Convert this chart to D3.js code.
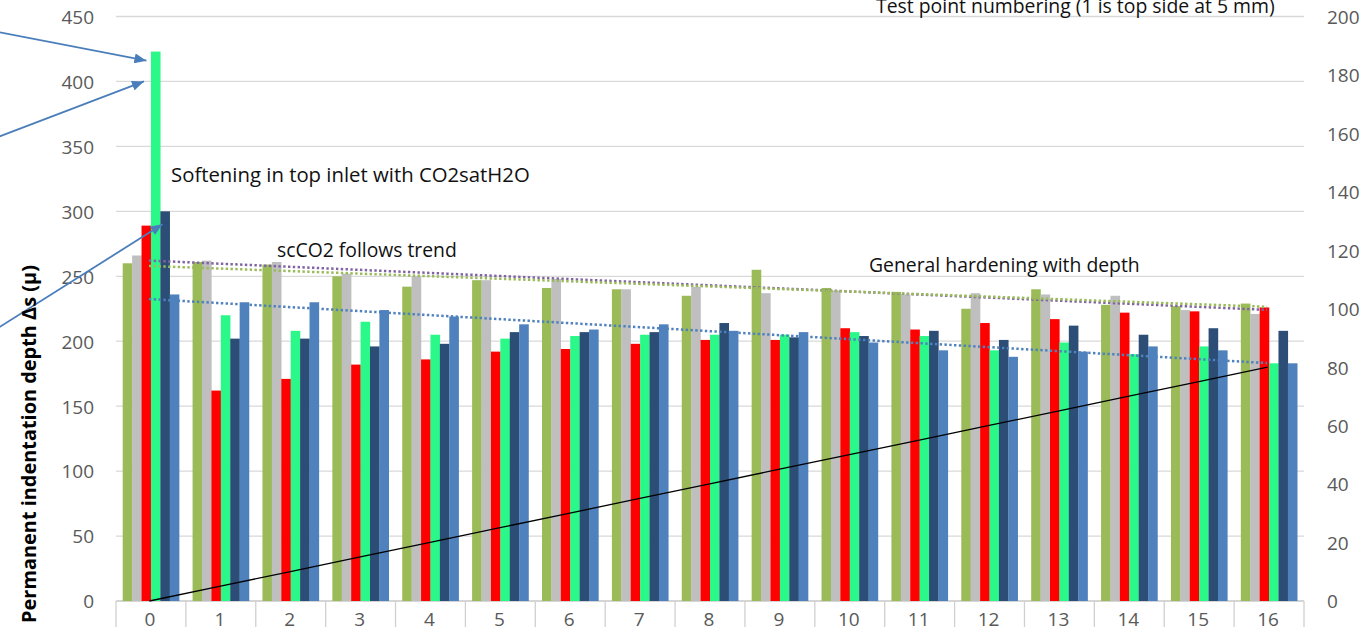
<!DOCTYPE html>
<html>
<head>
<meta charset="utf-8">
<script src="https://cdn.jsdelivr.net/npm/d3@7"></script>
<style>
  html, body { margin: 0; padding: 0; background: #ffffff; overflow: hidden; }
  text { font-family: "Open Sans", "Noto Sans", sans-serif; }
</style>
</head>
<body>
<svg id="chart" width="1371" height="627"></svg>
<script>
// Test point numbers along the category axis
const categories = [0, 1, 2, 3, 4, 5, 6, 7, 8, 9, 10, 11, 12, 13, 14, 15, 16];

// Permanent indentation depth per test point, one array per sample
const oliveVals = [260, 261, 259, 250, 242, 247, 241, 240, 235, 255, 241, 238, 225, 240, 228, 227, 229];
const greyVals  = [266, 262, 261, 252, 250, 247, 248, 240, 242, 237, 239, 236, 237, 236, 235, 224, 221];
const redVals   = [289, 162, 171, 182, 186, 192, 194, 198, 201, 201, 210, 209, 214, 217, 222, 223, 226];
const greenVals = [423, 220, 208, 215, 205, 202, 204, 205, 205, 205, 207, 204, 193, 199, 190, 196, 183];
const navyVals  = [300, 202, 202, 196, 198, 207, 207, 207, 214, 203, 204, 208, 201, 212, 205, 210, 208];
const blueVals  = [236, 230, 230, 224, 219, 213, 209, 213, 208, 207, 199, 193, 188, 192, 196, 193, 183];

// Depth of each test point below the top side (secondary axis, mm)
const depthVals = [0, 5, 10, 15, 20, 25, 30, 35, 40, 45, 50, 55, 60, 65, 70, 75, 80];

// Axis tick labels
const leftTicks  = [0, 50, 100, 150, 200, 250, 300, 350, 400, 450];
const rightTicks = [0, 20, 40, 60, 80, 100, 120, 140, 160, 180, 200];

// Series table built from the arrays above
const seriesKeys = ["olive", "grey", "red", "green", "navy", "blue"];
const seriesValues = { olive: oliveVals, grey: greyVals, red: redVals, green: greenVals, navy: navyVals, blue: blueVals };
const seriesColor = { olive: "#9BBB59", grey: "#BFBFBF", red: "#FF0000", green: "#2AF98A", navy: "#2C4D75", blue: "#4F81BD" };

// Linear trend lines fitted to three of the samples
const trendSeries = [
  { key: "grey",  color: "#8064A2" },
  { key: "olive", color: "#9BBB59" },
  { key: "blue",  color: "#4F81BD" }
];

const svg = d3.select("#chart");

const plotLeft = 116, plotRight = 1304, plotTop = 16.5, plotBottom = 601;

const x = d3.scaleBand().domain(categories).range([plotLeft, plotRight]).paddingInner(0).paddingOuter(0);
const bw = x.bandwidth();
const x1 = d3.scaleBand().domain(seriesKeys).range([bw * 0.096, bw * 0.904]).padding(0);
const y = d3.scaleLinear().domain([0, 450]).range([plotBottom, plotTop]);
const yR = d3.scaleLinear().domain([0, 200]).range([plotBottom, plotTop]);

// Horizontal gridlines
svg.append("g")
  .selectAll("line")
  .data(leftTicks)
  .join("line")
  .attr("x1", plotLeft).attr("x2", plotRight)
  .attr("y1", d => y(d)).attr("y2", d => y(d))
  .attr("stroke", "#D9D9D9")
  .attr("stroke-width", 1.3);

// Category axis: baseline and dividers between test points
const axisG = svg.append("g");
axisG.append("line")
  .attr("x1", plotLeft).attr("x2", plotRight)
  .attr("y1", plotBottom).attr("y2", plotBottom)
  .attr("stroke", "#D0D0D0").attr("stroke-width", 1.3);
axisG.selectAll("line.div")
  .data(categories.map(c => x(c)).concat([plotRight]))
  .join("line")
  .attr("class", "div")
  .attr("x1", d => d).attr("x2", d => d)
  .attr("y1", plotBottom).attr("y2", 630)
  .attr("stroke", "#D0D0D0").attr("stroke-width", 1.3);
axisG.selectAll("text")
  .data(categories)
  .join("text")
  .attr("x", d => x(d) + bw / 2 - 1)
  .attr("y", 625.5)
  .attr("text-anchor", "middle")
  .attr("font-size", 19)
  .attr("fill", "#595959")
  .text(d => d);

// Left value axis labels
const yAxis = d3.axisLeft(y).tickValues(leftTicks).tickSize(0).tickPadding(22);
const yG = svg.append("g").attr("transform", `translate(${plotLeft},0)`).call(yAxis);
yG.select(".domain").remove();
yG.selectAll("text").attr("font-size", 19).attr("fill", "#595959")
  .attr("font-family", "'Open Sans', sans-serif").attr("dy", "0.36em");

// Right value axis labels
const yRAxis = d3.axisRight(yR).tickValues(rightTicks).tickSize(0).tickPadding(23);
const yRG = svg.append("g").attr("transform", `translate(${plotRight},0)`).call(yRAxis);
yRG.select(".domain").remove();
yRG.selectAll("text").attr("font-size", 19).attr("fill", "#595959")
  .attr("font-family", "'Open Sans', sans-serif").attr("dy", "0.36em");

// Clustered bars
const groups = svg.append("g")
  .selectAll("g")
  .data(categories.map((c, i) => ({ c, i })))
  .join("g")
  .attr("transform", d => `translate(${x(d.c)},0)`);

groups.selectAll("rect")
  .data(d => seriesKeys.map(k => ({ key: k, value: seriesValues[k][d.i] })))
  .join("rect")
  .attr("x", d => x1(d.key))
  .attr("y", d => y(d.value))
  .attr("width", x1.bandwidth() + 0.2)
  .attr("height", d => y(0) - y(d.value))
  .attr("fill", d => seriesColor[d.key]);

// Least-squares fit over the test point index
function linearFit(vals) {
  const mx = d3.mean(vals, (v, i) => i);
  const my = d3.mean(vals);
  let sxy = 0, sxx = 0;
  vals.forEach((v, i) => { sxy += (i - mx) * (v - my); sxx += (i - mx) * (i - mx); });
  const slope = sxy / sxx;
  return i => my + slope * (i - mx);
}

const trendG = svg.append("g");
trendSeries.forEach(t => {
  const f = linearFit(seriesValues[t.key]);
  const first = 0, last = categories.length - 1;
  trendG.append("line")
    .attr("x1", x(categories[first]) + bw / 2 - 2)
    .attr("y1", y(f(first)))
    .attr("x2", x(categories[last]) + bw / 2 - 2)
    .attr("y2", y(f(last)))
    .attr("stroke", t.color)
    .attr("stroke-width", 2.5)
    .attr("stroke-dasharray", "2.4 2.4");
});

// Depth of test points on the secondary axis
const depthLine = d3.line()
  .x((d, i) => x(categories[i]) + bw / 2 - 1.5)
  .y(d => yR(d));
svg.append("path")
  .datum(depthVals)
  .attr("d", depthLine)
  .attr("fill", "none")
  .attr("stroke", "#000000")
  .attr("stroke-width", 1.3);

// Arrowhead marker for callouts
svg.append("defs").append("marker")
  .attr("id", "arrowHead")
  .attr("markerUnits", "userSpaceOnUse")
  .attr("markerWidth", 13).attr("markerHeight", 10)
  .attr("refX", 12).attr("refY", 5)
  .attr("orient", "auto")
  .append("path")
  .attr("d", "M0,0 L12,5 L0,10 Z")
  .attr("fill", "#4A7EBB");

const calloutColor = "#4A7EBB";
const greenLeft = x(categories[0]) + x1("green");
const arrows = [
  { x1: -2, y1: 32, x2: greenLeft - 4.5, y2: y(416) },
  { x1: -2, y1: 137, x2: greenLeft - 7, y2: y(400) },
  { x1: -2, y1: 328, x2: greenLeft + 11.5, y2: y(290) }
];
svg.append("g")
  .selectAll("line")
  .data(arrows)
  .join("line")
  .attr("x1", d => d.x1).attr("y1", d => d.y1)
  .attr("x2", d => d.x2).attr("y2", d => d.y2)
  .attr("stroke", calloutColor)
  .attr("stroke-width", 1.8)
  .attr("marker-end", "url(#arrowHead)");

// Fit a label's font size so the text spans the given width
function fitText(sel, width, base) {
  sel.attr("font-size", base);
  const w = sel.node().getComputedTextLength();
  sel.attr("font-size", base * width / w);
  return sel;
}

// Annotations
const notes = svg.append("g").attr("fill", "#111111");
fitText(notes.append("text").attr("x", 171).attr("y", 181.5)
  .text("Softening in top inlet with CO2satH2O"), 359, 18);
fitText(notes.append("text").attr("x", 277).attr("y", 257)
  .text("scCO2 follows trend"), 180, 18);
fitText(notes.append("text").attr("x", 869).attr("y", 271.5)
  .text("General hardening with depth"), 271, 18);
fitText(notes.append("text").attr("x", 876).attr("y", 13)
  .text("Test point numbering (1 is top side at 5 mm)"), 399, 18);

// Left axis title
fitText(svg.append("text")
  .attr("transform", "translate(36,444) rotate(-90)")
  .attr("text-anchor", "middle")
  .attr("font-weight", "bold")
  .attr("fill", "#000000")
  .text("Permanent indentation depth \u0394s (\u03bc)"), 358, 19);
</script>
</body>
</html>
